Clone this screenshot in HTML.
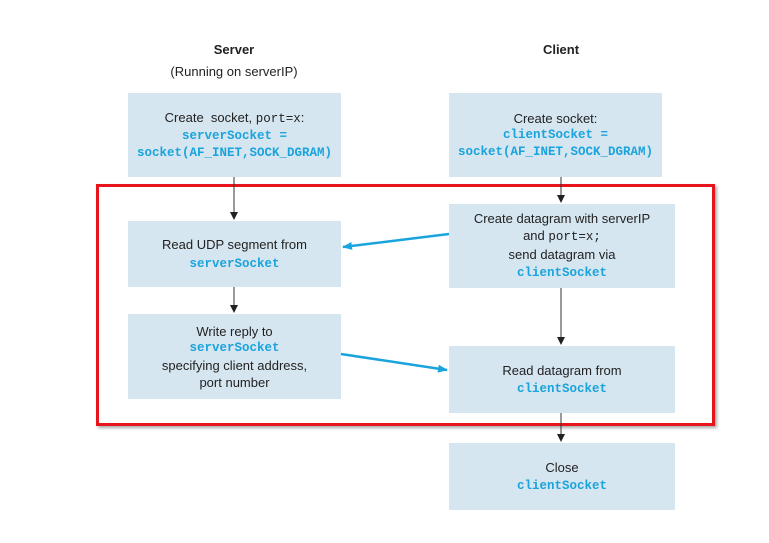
<!DOCTYPE html>
<html><head><meta charset="utf-8"><style>
body{margin:0;width:769px;height:543px;background:#fff;position:relative;font-family:"Liberation Sans",sans-serif;overflow:hidden}
.b{position:absolute;background:#d6e6f0;display:flex;flex-direction:column;justify-content:center;align-items:center;text-align:center;font-size:13px;color:#222;line-height:17px}
.c{font-family:"Liberation Mono",monospace;font-weight:bold;color:#1aa3dc;font-size:12.5px}
.m{font-family:"Liberation Mono",monospace;font-size:12.5px}
.t{position:absolute;text-align:center;font-size:13px;color:#222}
</style></head><body>
<div class="t" style="left:134px;top:42px;width:200px;font-weight:bold">Server</div>
<div class="t" style="left:134px;top:64px;width:200px">(Running on serverIP)</div>
<div class="t" style="left:461px;top:42px;width:200px;font-weight:bold">Client</div>

<div class="b" style="left:128px;top:93px;width:213px;height:84px"><div>Create &nbsp;socket, <span class="m">port=x</span>:</div><div class="c">serverSocket =</div><div class="c">socket(AF_INET,SOCK_DGRAM)</div></div>
<div class="b" style="left:449px;top:93px;width:213px;height:84px"><div>Create socket:</div><div class="c">clientSocket =</div><div class="c">socket(AF_INET,SOCK_DGRAM)</div></div>
<div class="b" style="left:128px;top:221px;width:213px;height:66px"><div>Read UDP segment from</div><div class="c" style="margin-top:3px">serverSocket</div></div>
<div class="b" style="left:449px;top:204px;width:226px;height:84px"><div>Create datagram with serverIP</div><div>and <span class="m">port=x;</span></div><div>send datagram via</div><div class="c" style="margin-top:2px">clientSocket</div></div>
<div class="b" style="left:128px;top:314px;width:213px;height:85px"><div>Write reply to</div><div class="c">serverSocket</div><div>specifying client address,</div><div>port number</div></div>
<div class="b" style="left:449px;top:346px;width:226px;height:67px"><div>Read datagram from</div><div class="c" style="margin-top:2px">clientSocket</div></div>
<div class="b" style="left:449px;top:443px;width:226px;height:67px"><div>Close</div><div class="c" style="margin-top:2px">clientSocket</div></div>

<div style="position:absolute;left:96px;top:184px;width:613px;height:236px;border:3px solid #e8141b;box-shadow:2px 2px 3px rgba(0,0,0,.35)"></div>

<svg width="769" height="543" style="position:absolute;left:0;top:0">
<defs>
<marker id="k" markerWidth="8" markerHeight="8" refX="7" refY="4" orient="auto" markerUnits="userSpaceOnUse"><path d="M0,0L8,4L0,8z" fill="#222"/></marker>
<marker id="u" markerWidth="10" markerHeight="8" refX="9" refY="4" orient="auto" markerUnits="userSpaceOnUse"><path d="M0,0L10,4L0,8z" fill="#1aa3dc"/></marker>
</defs>
<g stroke="#333" stroke-width="1">
<line x1="234" y1="177" x2="234" y2="219" marker-end="url(#k)"/>
<line x1="234" y1="287" x2="234" y2="312" marker-end="url(#k)"/>
<line x1="561" y1="177" x2="561" y2="202" marker-end="url(#k)"/>
<line x1="561" y1="288" x2="561" y2="344" marker-end="url(#k)"/>
<line x1="561" y1="413" x2="561" y2="441" marker-end="url(#k)"/>
</g>
<g stroke="#1aa3dc" stroke-width="2.5">
<line x1="449" y1="234" x2="343" y2="247" marker-end="url(#u)"/>
<line x1="341" y1="354" x2="447" y2="370" marker-end="url(#u)"/>
</g>
</svg>
</body></html>
